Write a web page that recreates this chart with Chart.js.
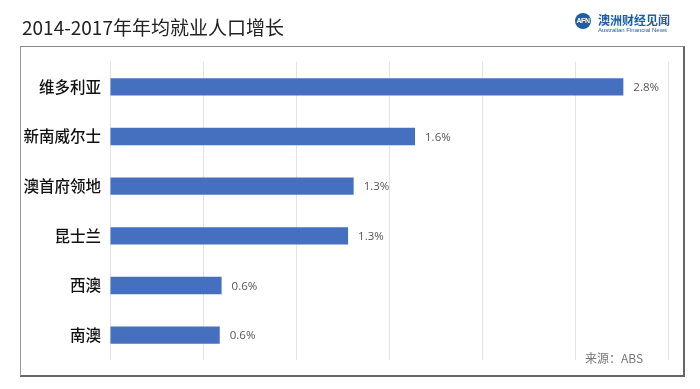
<!DOCTYPE html>
<html>
<head>
<meta charset="utf-8">
<script src="https://cdn.jsdelivr.net/npm/chart.js@4"></script>
<style>
  html,body{margin:0;padding:0;background:#fff;}
  #wrap{position:relative;width:700px;height:389px;overflow:hidden;font-family:'Noto Sans CJK SC',sans-serif;}
  #c{position:absolute;left:0;top:0;}
  .frame{position:absolute;left:20px;top:46px;width:662px;height:328px;border-top:1px solid #888;border-left:1px solid #999;border-right:2px solid #666;border-bottom:2px solid #666;}
  .title{position:absolute;left:22px;top:14px;font-size:19px;line-height:26px;color:#222;white-space:nowrap;}
  .logo{position:absolute;left:575px;top:13px;width:16px;height:16px;border-radius:50%;background:#1d5fa6;color:#fff;font:bold 7px/16px 'Liberation Sans',sans-serif;text-align:center;letter-spacing:-0.5px;}
  .brand{position:absolute;left:598px;top:12px;font-size:12px;line-height:16px;color:#1d5fa6;font-weight:bold;white-space:nowrap;}
  .brand-en{position:absolute;left:598px;top:27px;font:6px/7px 'Liberation Sans',sans-serif;color:#1d5fa6;white-space:nowrap;}
  .source{position:absolute;left:585px;top:349px;font-size:12px;line-height:18px;color:#777;white-space:nowrap;}
</style>
</head>
<body>
<div id="wrap">
  <canvas id="c" width="700" height="389"></canvas>
  <div class="frame"></div>
  <div class="title">2014-2017年年均就业人口增长</div>
  <div class="logo">AFN</div>
  <div class="brand">澳洲财经见闻</div>
  <div class="brand-en">Australian Financial News</div>
  <div class="source">来源：ABS</div>
</div>
<script>
const categories = ['维多利亚', '新南威尔士', '澳首府领地', '昆士兰', '西澳', '南澳'];
const growth = [2.76, 1.64, 1.31, 1.28, 0.60, 0.59];
const axisMax = 3;
const axisStep = 0.5;

const valueLabels = {
  id: 'valueLabels',
  afterDatasetsDraw(chart) {
    const ctx = chart.ctx;
    const meta = chart.getDatasetMeta(0);
    ctx.save();
    ctx.fillStyle = '#555';
    ctx.font = '11.5px "Open Sans", sans-serif';
    ctx.textBaseline = 'middle';
    ctx.textAlign = 'left';
    meta.data.forEach((bar, i) => {
      ctx.fillText(growth[i].toFixed(1) + '%', bar.x + 10, bar.y + 1);
    });
    ctx.restore();
  }
};

new Chart(document.getElementById('c'), {
  type: 'bar',
  data: {
    labels: categories,
    datasets: [{
      data: growth,
      backgroundColor: '#4570c0',
      categoryPercentage: 1,
      barPercentage: 0.35
    }]
  },
  options: {
    indexAxis: 'y',
    responsive: false,
    animation: false,
    devicePixelRatio: 1,
    layout: {padding: {left: 0, right: 32, top: 62, bottom: 29}},
    plugins: {legend: {display: false}, tooltip: {enabled: false}},
    scales: {
      x: {
        min: 0, max: axisMax,
        ticks: {display: false, stepSize: axisStep},
        grid: {color: '#e2e2e2', drawTicks: false},
        border: {display: false},
        afterFit: s => { s.height = 0; }
      },
      y: {
        grid: {display: false, drawTicks: false},
        border: {display: false},
        ticks: {
          padding: 9,
          color: '#111',
          font: {size: 15.5, family: "'Noto Sans CJK SC', sans-serif", weight: '500'}
        },
        afterFit: s => { s.width = 110; }
      }
    }
  },
  plugins: [valueLabels]
});
</script>
</body>
</html>
